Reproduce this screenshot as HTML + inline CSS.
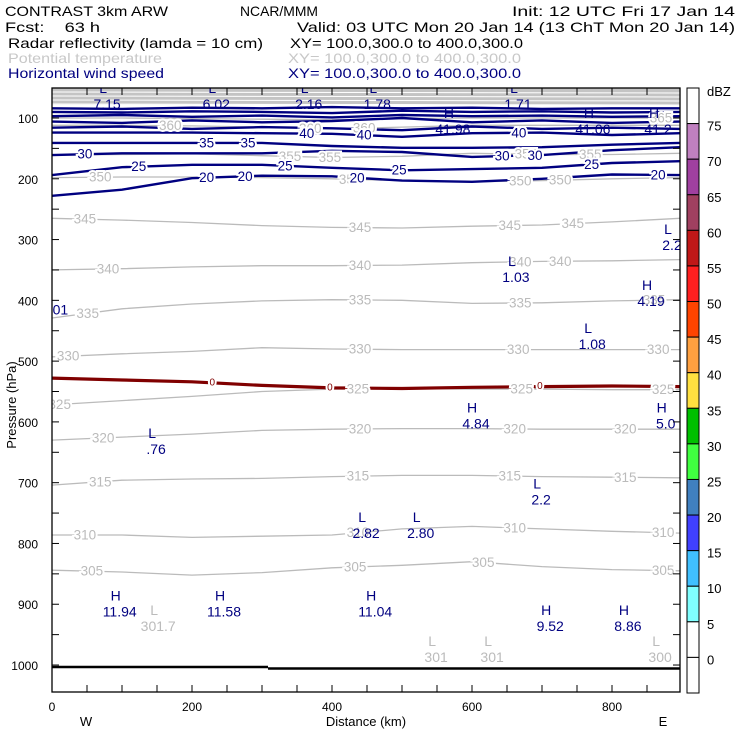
<!DOCTYPE html>
<html><head><meta charset="utf-8"><style>
body{margin:0;background:#fff;}
svg{display:block;font-family:"Liberation Sans",sans-serif;}
</style></head><body>
<svg id="chart" width="740" height="740" viewBox="0 0 740 740" xmlns="http://www.w3.org/2000/svg">
<g font-size="14">
<text x="5" y="16" textLength="163" lengthAdjust="spacingAndGlyphs">CONTRAST  3km ARW</text>
<text x="240" y="16" textLength="78" lengthAdjust="spacingAndGlyphs">NCAR/MMM</text>
<text x="512" y="16" textLength="223" lengthAdjust="spacingAndGlyphs">Init: 12 UTC Fri 17 Jan 14</text>
<text x="5" y="32" textLength="95" lengthAdjust="spacingAndGlyphs" xml:space="preserve">Fcst:    63 h</text>
<text x="297" y="32" textLength="438" lengthAdjust="spacingAndGlyphs">Valid: 03 UTC Mon 20 Jan 14 (13 ChT Mon 20 Jan 14)</text>
<text x="8" y="48" textLength="255" lengthAdjust="spacingAndGlyphs">Radar reflectivity (lamda = 10 cm)</text>
<text x="290" y="48" textLength="233" lengthAdjust="spacingAndGlyphs">XY= 100.0,300.0 to 400.0,300.0</text>
<text x="8" y="63" fill="#c8c8c8" textLength="154" lengthAdjust="spacingAndGlyphs">Potential temperature</text>
<text x="288" y="63" fill="#c8c8c8" textLength="233" lengthAdjust="spacingAndGlyphs">XY= 100.0,300.0 to 400.0,300.0</text>
<text x="8" y="78" fill="#000080" textLength="156" lengthAdjust="spacingAndGlyphs">Horizontal wind speed</text>
<text x="288" y="78" fill="#000080" textLength="233" lengthAdjust="spacingAndGlyphs">XY= 100.0,300.0 to 400.0,300.0</text>
</g>
<defs><clipPath id="pc"><rect x="52" y="88" width="628" height="604"/></clipPath></defs>
<g id="plot" clip-path="url(#pc)"></g>
<g id="axes"></g>
<g id="cbar"></g>
</svg>
<script>
const NS="http://www.w3.org/2000/svg";
const kmGrid=[0,100,200,300,400,500,600,700,800,897];
const thetaLevels=[345,340,335,330,325,320,315,310,305,350,355,360,365];
const thetaP=[
[265,268,272,277,280,281,278,276,271,265],
[350,348,345,343,343,342,338,336,335,333],
[429,414,406,401,399,400,405,404,401,399],
[493,488,484,478,480,481,481,481,481,481],
[572,565,558,550,546,545,546,546,547,547],
[630,625,620,614,612,611,611,612,612,612],
[704,696,694,693,690,688,688,690,691,692],
[786,786,790,788,786,776,772,776,780,783],
[844,847,852,848,840,836,830,838,843,845],
[198,197,197,198,200,203,205,203,200,198],
[161,160,159,162,165,163,158,160,160,158],
[112,112,113,115,118,115,112,112,112,112],
[100,100,101,102,103,101,100,100,100,100]];
const thetaLabelKm=[[47,440,654,744],[80,440,669,726],[51,440,669,860],[23,440,666,866],[11,437,671,873],[73,440,661,819],[69,437,654,819],[47,437,661,873],[57,433,616,873],[69,426,669,726],[340,397,677,769],[169,369,446],[870]];
const windLevels=[20,25,30,35,40,40,40,40,40,40];
const windP=[
[228,218,199,195,196,203,205,200,193,194],
[194,181,177,177,182,186,184,182,174,171],
[161,158,158,158,154,156,164,161,153,148],
[141,141,141,141,146,149,149,148,144,141],
[124,124,124,125,126,131,125,124,128,125],
[116,114,118,115,117,120,114,118,116,118],
[106,108,104,107,105,100,107,104,108,106],
[97,95,98,96,99,95,97,96,98,97],
[90,91,89,90,92,88,90,89,91,90],
[84,85,83,84,82,84,83,85,84,84]];
const windLabelKm=[[221,276,436,866],[124,333,496,771],[47,643,690],[221,280],[364,446,667],[],[],[],[],[]];
const refl0P=[528,531,534,540,544,545,543,542,541,542];
const refl0LabelKm=[229,397,697];
const extremaText=["L","L","L","L","L","H","H","H","L","H","L","L","H","H","L","L","L","L","H","H","H","H","H"];
const extremaVal=["7.15","6.02","2.16","1.78","1.71","41.98","41.06","41.2","1.03","4.19","2.2","1.08","4.84","5.0","2.2",".76","2.82","2.80","11.94","11.58","11.04","9.52","8.86"];
const extremaKm=[73,229,361,459,660,567,767,860,657,850,880,766,600,871,693,143,443,521,91,240,456,706,817];
const extremaP=[62,62,62,62,62,103,103,103,347,386,294,457,588,588,713,630,768,768,897,897,897,921,921];
const thetaExtKm=[146,543,623,863];
const thetaExtVal=["301.7","301","301","300"];
const thetaExtP=[921,972,972,972];
const pTicks=[100,200,300,400,500,600,700,800,900,1000];
const xTicks=[0,200,400,600,800];
const cbarLabels=["75","70","65","60","55","50","45","40","35","30","25","20","15","10","5","0"];
const cbarColors=["#ffffff","#c080c0","#a040a0","#a04060","#c01818","#ff2020","#ff4400","#ffa040","#ffe040","#00c000","#40ff40","#4080c0","#4040ff","#40c0ff","#80ffff","#ffffff","#ffffff"];

const X=km=>52+km*0.7, Y=p=>118+(p-100)*0.6078;
function mk(t,a,parent){const e=document.createElementNS(NS,t);for(const k in a)e.setAttribute(k,a[k]);parent.appendChild(e);return e;}
function interp(arr,km){for(let i=0;i<kmGrid.length-1;i++){if(km<=kmGrid[i+1]){const f=(km-kmGrid[i])/(kmGrid[i+1]-kmGrid[i]);return arr[i]+f*(arr[i+1]-arr[i]);}}return arr[arr.length-1];}
function pts(arr){return arr.map((p,i)=>X(kmGrid[i]).toFixed(1)+","+Y(p).toFixed(1)).join(" ");}
const plot=document.getElementById('plot'),axes=document.getElementById('axes'),cbar=document.getElementById('cbar');

let band=mk('rect',{x:52,y:88,width:628,height:Y(78)-88,fill:"#c4c4c4"},plot);


for(let k=0;k<4;k++){let l=mk('line',{x1:52,x2:680,y1:92+k*4,y2:93+k*4,stroke:"#fff","stroke-width":1},plot);

}

thetaP.forEach((arr,i)=>{
 let pl=mk('polyline',{points:pts(arr),fill:"none",stroke:"#bbbbbb","stroke-width":1.3},plot);
 
 
});
let rl=mk('polyline',{points:pts(refl0P),fill:"none",stroke:"#800000","stroke-width":3.2},plot);


windP.forEach((arr,i)=>{
 let pl=mk('polyline',{points:pts(arr),fill:"none",stroke:"#000080","stroke-width":2.4},plot);
 
 
});
function lab(x,y,t,col,name){let e=mk('text',{x:x,y:y,"text-anchor":"middle","dominant-baseline":"central","font-size":13.5,fill:col,stroke:"#fff","stroke-width":4,"paint-order":"stroke"},plot);e.textContent=t;
 
 return e;}
thetaLabelKm.forEach((ks,i)=>ks.forEach(k=>lab(X(k),Y(interp(thetaP[i],k)),String(thetaLevels[i]),"#bbbbbb","theta-label")));
windLabelKm.forEach((ks,i)=>ks.forEach(k=>lab(X(k),Y(interp(windP[i],k)),String(windLevels[i]),"#000080","wind-label")));
refl0LabelKm.forEach(k=>{let e=lab(X(k),Y(interp(refl0P,k)),"0","#800000","reflectivity-label");e.setAttribute('font-size',10);});
function ext(x,y,t,col,name){let e=mk('text',{x:x,y:y,"text-anchor":"middle","font-size":14,fill:col},plot);e.textContent=t;
 
 }
extremaKm.forEach((k,i)=>{ext(X(k),Y(extremaP[i])-2,extremaText[i],"#000080","wind-extremum-marker");ext(X(k)+4,Y(extremaP[i])+14,extremaVal[i],"#000080","wind-extremum-value");});
ext(X(12),Y(423),"01","#000080","wind-extremum-value");
thetaExtKm.forEach((k,i)=>{ext(X(k),Y(thetaExtP[i])-2,"L","#bbbbbb","theta-extremum-marker");ext(X(k)+4,Y(thetaExtP[i])+14,thetaExtVal[i],"#bbbbbb","theta-extremum-value");});
let g1=mk('line',{x1:52,x2:268,y1:667,y2:667,stroke:"#000","stroke-width":2.5},plot);


let g2=mk('line',{x1:268,x2:680,y1:668.5,y2:668.5,stroke:"#000","stroke-width":2.5},plot);



let fr=mk('rect',{x:52,y:88,width:628,height:604,fill:"none",stroke:"#000","stroke-width":1.3},axes);


for(let p=100;p<=1000;p+=50){const y=Y(p);mk('line',{x1:52,x2:59,y1:y,y2:y,stroke:"#000"},axes);mk('line',{x1:673,x2:680,y1:y,y2:y,stroke:"#000"},axes);}
for(let k=0;k<=850;k+=50){const x=X(k);mk('line',{x1:x,x2:x,y1:88,y2:95,stroke:"#000"},axes);mk('line',{x1:x,x2:x,y1:685,y2:692,stroke:"#000"},axes);}
pTicks.forEach(p=>{let t=mk('text',{x:38,y:Y(p)+5,"text-anchor":"end","font-size":12},axes);t.textContent=String(p);
 
 });
xTicks.forEach(k=>{let t=mk('text',{x:X(k),y:711,"text-anchor":"middle","font-size":12},axes);t.textContent=String(k);
 
 });
function at(x,y,txt,name,extra){let t=mk('text',Object.assign({x:x,y:y,"text-anchor":"middle","font-size":13},extra||{}),axes);t.textContent=txt;
 
 }
at(86,726,"W","x-axis-west");
at(663,726,"E","x-axis-east");
at(366,726,"Distance (km)","x-axis-title");
at(16,405,"Pressure (hPa)","y-axis-title",{transform:"rotate(-90 16 405)"});

const cb0=88,cbH=(693-88)/cbarColors.length;
cbarColors.forEach((c,i)=>{let r=mk('rect',{x:687,y:cb0+i*cbH,width:12,height:cbH,fill:c,stroke:"#000","stroke-width":1},cbar);
 
 });
cbarLabels.forEach((l,i)=>{let t=mk('text',{x:707,y:cb0+(i+1)*cbH+7,"font-size":13},cbar);t.textContent=l;
 
 });
let u=mk('text',{x:707,y:96,"font-size":13},cbar);u.textContent="dBZ";


</script>
</body></html>
